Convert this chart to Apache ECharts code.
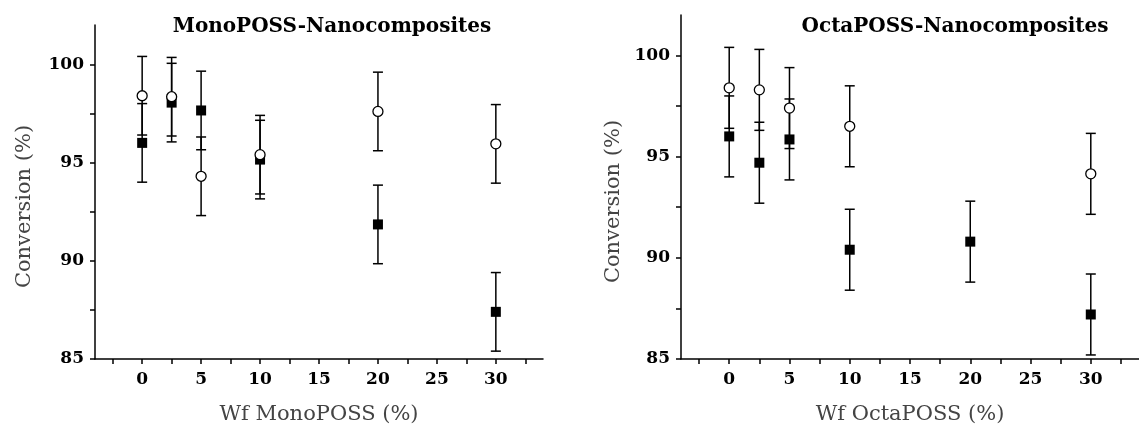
<!DOCTYPE html>
<html>
<head>
<meta charset="utf-8">
<script src="https://cdn.jsdelivr.net/npm/echarts@6/dist/echarts.min.js"></script>
<style>
html,body{margin:0;padding:0;background:#fff;}
#chart{width:1139px;height:430px;}
</style>
</head>
<body>
<div id="chart"></div>
<script>
// ---- data ----
const monoX = [0, 2.5, 5, 10, 20, 30];
const monoFilled = [96.0, 98.05, 97.65, 95.15, 91.85, 87.4];
const monoFilledErr = [2, 2, 2, 2, 2, 2];
const monoOpen = [98.4, 98.35, 94.3, 95.4, 97.6, 95.95];
const monoOpenErr = [2, 2, 2, 2, 2, 2];

const octaFilledX = [0, 2.5, 5, 10, 20, 30];
const octaFilled = [96.0, 94.7, 95.85, 90.4, 90.8, 87.2];
const octaFilledErr = [2, 2, 2, 2, 2, 2];
const octaOpenX = [0, 2.5, 5, 10, 30];
const octaOpen = [98.4, 98.3, 97.4, 96.5, 94.15];
const octaOpenErr = [2, 2, 2, 2, 2];

const xTickValues = [-2.5, 0, 2.5, 5, 7.5, 10, 12.5, 15, 17.5, 20, 22.5, 25, 27.5, 30, 32.5];
const xLabelValues = [0, 5, 10, 15, 20, 25, 30];
const yTickValues = [85, 87.5, 90, 92.5, 95, 97.5, 100];
const yLabelValues = [85, 90, 95, 100];

const titles = ['MonoPOSS-Nanocomposites', 'OctaPOSS-Nanocomposites'];
const xNames = ['Wf MonoPOSS (%)', 'Wf OctaPOSS (%)'];
const yName = 'Conversion (%)';

// ---- helpers ----
const SERIF = '"DejaVu Serif", "Liberation Serif", serif';
function pts(xs, ys) { return xs.map((x, i) => [x, ys[i]]); }
function errPts(xs, ys, es) { return xs.map((x, i) => [x, ys[i] - es[i], ys[i] + es[i]]); }

function errRender(params, api) {
  const x = api.value(0);
  const lo = api.coord([x, api.value(1)]);
  const hi = api.coord([x, api.value(2)]);
  const cap = 5;
  const st = { stroke: '#000', lineWidth: 1.5 };
  return {
    type: 'group',
    children: [
      { type: 'line', shape: { x1: lo[0], y1: lo[1], x2: hi[0], y2: hi[1] }, style: st },
      { type: 'line', shape: { x1: lo[0] - cap, y1: lo[1], x2: lo[0] + cap, y2: lo[1] }, style: st },
      { type: 'line', shape: { x1: hi[0] - cap, y1: hi[1], x2: hi[0] + cap, y2: hi[1] }, style: st }
    ]
  };
}

function xAxis(gi) {
  return {
    type: 'value', gridIndex: gi, min: -4, max: 34,
    name: xNames[gi], nameLocation: 'middle', nameGap: 45,
    nameTextStyle: { fontFamily: SERIF, fontSize: 21, color: '#444' },
    axisLine: { onZero: false, lineStyle: { color: '#000', width: 1.5 } },
    axisTick: { show: true, inside: false, length: 5, customValues: xTickValues, lineStyle: { color: '#000', width: 1.5 } },
    axisLabel: { customValues: xLabelValues, margin: 12, fontFamily: SERIF, fontSize: 17, fontWeight: 'bold', color: '#000' },
    splitLine: { show: false }
  };
}
function yAxis(gi, gap) {
  return {
    type: 'value', gridIndex: gi, min: 85, max: 102,
    name: yName, nameLocation: 'middle', nameGap: gap, nameRotate: 90,
    nameTextStyle: { fontFamily: SERIF, fontSize: 21, color: '#444', padding: [0, 29, 0, 0] },
    axisLine: { show: true, onZero: false, lineStyle: { color: '#000', width: 1.5 } },
    axisTick: { show: true, inside: false, length: 5, customValues: yTickValues, lineStyle: { color: '#000', width: 1.5 } },
    axisLabel: { customValues: yLabelValues, margin: 11, fontFamily: SERIF, fontSize: 17, fontWeight: 'bold', color: '#000' },
    splitLine: { show: false }
  };
}

function seriesSet(gi, fx, fy, fe, ox, oy, oe) {
  return [
    { type: 'custom', xAxisIndex: gi, yAxisIndex: gi, renderItem: errRender, data: errPts(fx, fy, fe), z: 1, silent: true },
    { type: 'custom', xAxisIndex: gi, yAxisIndex: gi, renderItem: errRender, data: errPts(ox, oy, oe), z: 1, silent: true },
    { type: 'scatter', xAxisIndex: gi, yAxisIndex: gi, symbol: 'rect', symbolSize: 10, data: pts(fx, fy),
      itemStyle: { color: '#000', opacity: 1 }, z: 3 },
    { type: 'scatter', xAxisIndex: gi, yAxisIndex: gi, symbol: 'circle', symbolSize: 10, data: pts(ox, oy),
      itemStyle: { color: '#fff', borderColor: '#000', borderWidth: 1.3, opacity: 1 }, z: 4 }
  ];
}

const chart = echarts.init(document.getElementById('chart'), null, { renderer: 'canvas' });
chart.setOption({
  animation: false,
  backgroundColor: '#fff',
  title: [
    { text: titles[0], left: 327, top: 12, textAlign: 'center',
      textStyle: { fontFamily: SERIF, fontSize: 20, fontWeight: 'bold', color: '#000' } },
    { text: titles[1], left: 950, top: 12, textAlign: 'center',
      textStyle: { fontFamily: SERIF, fontSize: 20, fontWeight: 'bold', color: '#000' } }
  ],
  grid: [
    { left: 95, top: 25, width: 448, height: 334 },
    { left: 681, top: 15, width: 467, height: 346 }
  ],
  xAxis: [xAxis(0), xAxis(1)],
  yAxis: [yAxis(0, 60), yAxis(1, 57)],
  series: [].concat(
    seriesSet(0, monoX, monoFilled, monoFilledErr, monoX, monoOpen, monoOpenErr),
    seriesSet(1, octaFilledX, octaFilled, octaFilledErr, octaOpenX, octaOpen, octaOpenErr)
  )
});
</script>
</body>
</html>
